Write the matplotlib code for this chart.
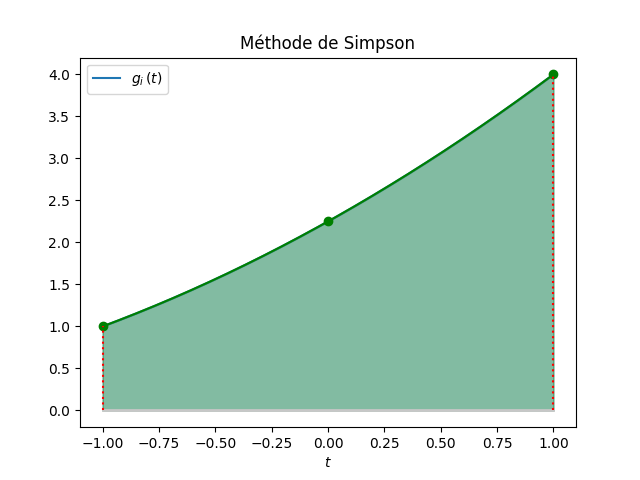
import numpy as np
import matplotlib

matplotlib.use("Agg")
import matplotlib.pyplot as plt

# Simpson nodes and values of g_i
nodes = [-1.0, 0.0, 1.0]
values = [1.0, 2.25, 4.0]

coef = np.polyfit(nodes, values, 2)
t = np.linspace(nodes[0], nodes[-1], 200)
g = np.polyval(coef, t)

fig, ax = plt.subplots(figsize=(6.4, 4.8))
ax.plot(t, g, label=r"$g_i\,(t)$")
ax.fill_between(t, 0, g, color="C0", alpha=0.3)
ax.fill_between(t, 0, g, color="green", alpha=0.3)
ax.plot(t, g, color="green")
ax.plot(nodes, values, "o", color="green")
ax.plot([nodes[0], nodes[-1]], [0, 0], color="0.78", linewidth=2)
ax.vlines([nodes[0], nodes[-1]], 0, [values[0], values[-1]], colors="red", linestyles=":")
ax.set_title("Méthode de Simpson")
ax.set_xlabel("$t$")
ax.legend(loc="upper left")
fig.savefig("out.png", dpi=100)
